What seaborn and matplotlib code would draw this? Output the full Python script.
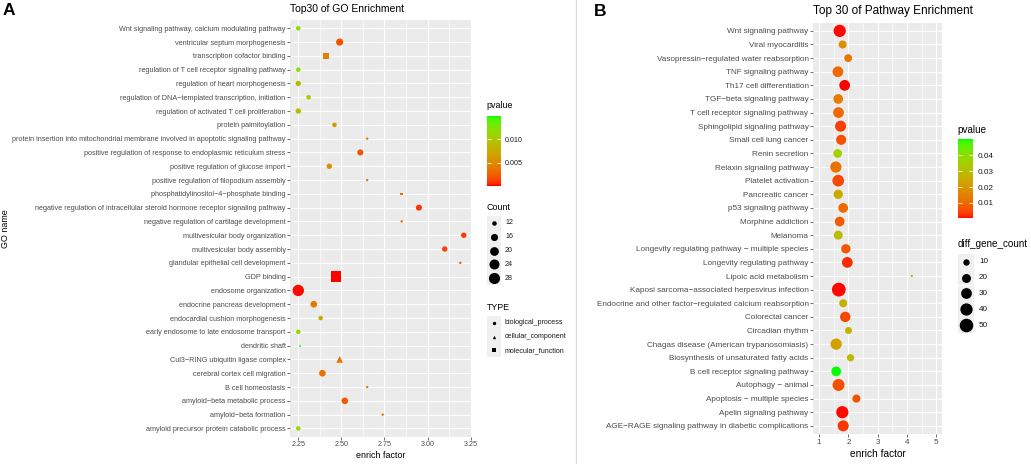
import numpy as np
import pandas as pd
import matplotlib
matplotlib.use("Agg")
import matplotlib.pyplot as plt
import seaborn as sns
from matplotlib.colors import ListedColormap, Normalize
from matplotlib.patches import Rectangle
from matplotlib.cm import ScalarMappable

# ---------------- data: panel A (GO) ----------------
termsA = [
    "Wnt signaling pathway, calcium modulating pathway",
    "ventricular septum morphogenesis",
    "transcription cofactor binding",
    "regulation of T cell receptor signaling pathway",
    "regulation of heart morphogenesis",
    "regulation of DNA\u2212templated transcription, initiation",
    "regulation of activated T cell proliferation",
    "protein palmitoylation",
    "protein insertion into mitochondrial membrane involved in apoptotic signaling pathway",
    "positive regulation of response to endoplasmic reticulum stress",
    "positive regulation of glucose import",
    "positive regulation of filopodium assembly",
    "phosphatidylinositol\u22124\u2212phosphate binding",
    "negative regulation of intracellular steroid hormone receptor signaling pathway",
    "negative regulation of cartilage development",
    "multivesicular body organization",
    "multivesicular body assembly",
    "glandular epithelial cell development",
    "GDP binding",
    "endosome organization",
    "endocrine pancreas development",
    "endocardial cushion morphogenesis",
    "early endosome to late endosome transport",
    "dendritic shaft",
    "Cul3\u2212RING ubiquitin ligase complex",
    "cerebral cortex cell migration",
    "B cell homeostasis",
    "amyloid\u2212beta metabolic process",
    "amyloid\u2212beta formation",
    "amyloid precursor protein catabolic process",
]
enrichA = [2.25, 2.49, 2.41, 2.25, 2.25, 2.31, 2.25, 2.46, 2.65, 2.61,
           2.43, 2.65, 2.85, 2.95, 2.85, 3.21, 3.10, 3.19, 2.47, 2.25,
           2.34, 2.38, 2.25, 2.26, 2.49, 2.39, 2.65, 2.52, 2.74, 2.25]
countA = [12, 16, 14, 12, 13, 12, 13, 12, 11, 14,
          13, 11, 11, 14, 11, 13, 13, 11, 26, 29,
          15, 12, 12, 11, 15, 15, 11, 15, 11, 12]
pA = [0.0120, 0.0018, 0.0045, 0.0125, 0.0090, 0.0102, 0.0090, 0.0062, 0.0040, 0.0020,
      0.0056, 0.0040, 0.0030, 0.0010, 0.0030, 0.0010, 0.0013, 0.0026, 0.0001, 0.0002,
      0.0038, 0.0073, 0.0115, 0.0149, 0.0035, 0.0033, 0.0040, 0.0024, 0.0036, 0.0115]
BP, CC, MF = "biological_process", "cellular_component", "molecular_function"
typeA = [BP, BP, MF, BP, BP, BP, BP, BP, BP, BP,
         BP, BP, MF, BP, BP, BP, BP, BP, MF, BP,
         BP, BP, BP, CC, CC, BP, BP, BP, BP, BP]
type_levels = [BP, CC, MF]
count_breaksA = [12, 16, 20, 24, 28]
p_breaksA = [0.005, 0.010]
p_labelsA = ["0.005", "0.010"]
x_breaksA = [2.25, 2.50, 2.75, 3.00, 3.25]
x_labelsA = ["2.25", "2.50", "2.75", "3.00", "3.25"]

# ---------------- data: panel B (pathway) ----------------
termsB = [
    "Wnt signaling pathway",
    "Viral myocarditis",
    "Vasopressin\u2212regulated water reabsorption",
    "TNF signaling pathway",
    "Th17 cell differentiation",
    "TGF\u2212beta signaling pathway",
    "T cell receptor signaling pathway",
    "Sphingolipid signaling pathway",
    "Small cell lung cancer",
    "Renin secretion",
    "Relaxin signaling pathway",
    "Platelet activation",
    "Pancreatic cancer",
    "p53 signaling pathway",
    "Morphine addiction",
    "Melanoma",
    "Longevity regulating pathway \u2212 multiple species",
    "Longevity regulating pathway",
    "Lipoic acid metabolism",
    "Kaposi sarcoma\u2212associated herpesvirus infection",
    "Endocrine and other factor\u2212regulated calcium reabsorption",
    "Colorectal cancer",
    "Circadian rhythm",
    "Chagas disease (American trypanosomiasis)",
    "Biosynthesis of unsaturated fatty acids",
    "B cell receptor signaling pathway",
    "Autophagy \u2212 animal",
    "Apoptosis \u2212 multiple species",
    "Apelin signaling pathway",
    "AGE\u2212RAGE signaling pathway in diabetic complications",
]
enrichB = [1.70, 1.80, 1.99, 1.64, 1.87, 1.65, 1.66, 1.73, 1.75, 1.63,
           1.57, 1.65, 1.65, 1.82, 1.70, 1.65, 1.91, 1.96, 4.16, 1.67,
           1.82, 1.89, 2.00, 1.58, 2.07, 1.58, 1.66, 2.27, 1.79, 1.82]
countB = [40, 16, 15, 30, 30, 24, 30, 32, 26, 19,
          33, 36, 22, 24, 24, 20, 22, 30, 4, 52,
          16, 28, 12, 33, 13, 24, 38, 16, 40, 32]
pB = [0.0005, 0.018, 0.012, 0.010, 0.0002, 0.014, 0.010, 0.004, 0.006, 0.036,
      0.012, 0.005, 0.025, 0.010, 0.008, 0.030, 0.007, 0.002, 0.028, 0.0005,
      0.027, 0.005, 0.028, 0.022, 0.029, 0.0502, 0.006, 0.006, 0.0005, 0.003]
count_breaksB = [10, 20, 30, 40, 50]
p_breaksB = [0.01, 0.02, 0.03, 0.04]
p_labelsB = ["0.01", "0.02", "0.03", "0.04"]
x_breaksB = [1, 2, 3, 4, 5]
x_labelsB = ["1", "2", "3", "4", "5"]

# ---------------- red -> green gradient interpolated in Lab ----------------
_M = np.array([[0.4124564, 0.3575761, 0.1804375],
               [0.2126729, 0.7151522, 0.0721750],
               [0.0193339, 0.1191920, 0.9503041]])
_WP = np.array([0.95047, 1.0, 1.08883])


def rgb2lab(rgb):
    c = np.asarray(rgb, float)
    lin = np.where(c <= 0.04045, c / 12.92, ((c + 0.055) / 1.055) ** 2.4)
    xyz = _M @ lin / _WP
    d = 6 / 29
    f = np.where(xyz > d ** 3, np.cbrt(xyz), xyz / (3 * d * d) + 4 / 29)
    return np.array([116 * f[1] - 16, 500 * (f[0] - f[1]), 200 * (f[1] - f[2])])


def lab2rgb(lab):
    L, a, b = lab
    fy = (L + 16) / 116
    f = np.array([fy + a / 500, fy, fy - b / 200])
    d = 6 / 29
    xyz = np.where(f > d, f ** 3, 3 * d * d * (f - 4 / 29)) * _WP
    lin = np.linalg.solve(_M, xyz)
    lin = np.clip(lin, 0, 1)
    c = np.where(lin <= 0.0031308, 12.92 * lin, 1.055 * lin ** (1 / 2.4) - 0.055)
    return np.clip(c, 0, 1)


lab_lo, lab_hi = rgb2lab([1, 0, 0]), rgb2lab([0, 1, 0])
cmap = ListedColormap([lab2rgb(lab_lo + t * (lab_hi - lab_lo)) for t in np.linspace(0, 1, 256)])

# ---------------- figure & pixel helpers ----------------
W, H = 1031, 466
plt.rcParams["font.family"] = ["Liberation Sans", "DejaVu Sans"]
fig = plt.figure(figsize=(W / 100, H / 100), dpi=100)


def rect(l, t, r, b):
    return [l / W, 1 - b / H, (r - l) / W, (b - t) / H]


def diam_area(d_px):
    return (d_px * 0.72) ** 2


def size_fun(counts, k, off):
    cmin, cmax = min(counts), max(counts)

    def f(c):
        t = (c - cmin) / (cmax - cmin)
        t = min(max(t, 0), 1)
        return diam_area(off + k * (1 + 5 * np.sqrt(t)))
    return f


sizeA = size_fun(countA, 1.8, 0.6)
sizeB = size_fun(countB, 2.3, 0.0)

TICKC, TEXTC = "#333333", "#4D4D4D"


def style_axes(ax, xb, xl, fs, xlim):
    ax.set_facecolor("#EBEBEB")
    for s in ax.spines.values():
        s.set_visible(False)
    ax.set_xlim(*xlim)
    ax.set_xticks(xb)
    ax.set_xticklabels(xl)
    minors = [(a + b) / 2 for a, b in zip(xb[:-1], xb[1:])]
    ax.set_xticks(minors, minor=True)
    ax.grid(which="major", color="white", linewidth=0.8)
    ax.grid(which="minor", axis="x", color="white", linewidth=0.4)
    ax.set_axisbelow(True)
    ax.tick_params(which="major", length=2, width=0.5, color=TICKC,
                   labelsize=fs, labelcolor=TEXTC, pad=1.2)
    ax.tick_params(which="minor", length=0)
    ax.set_xlabel("")
    ax.set_ylabel("")
    n = len(ax.get_yticks())
    ax.set_ylim(n - 0.4, -0.6)


# ---------------- panel A ----------------
dfA = pd.DataFrame({"term": termsA, "enrich": enrichA, "count": countA,
                    "pvalue": pA, "type": typeA})
normA = Normalize(min(pA), max(pA))
axA = fig.add_axes(rect(290, 20, 472, 436.7))
sns.scatterplot(data=dfA, x="enrich", y="term", hue="pvalue", palette=cmap,
                hue_norm=normA, size="count",
                sizes={c: sizeA(c) for c in sorted(set(countA))},
                style="type", style_order=type_levels,
                markers={BP: "o", CC: "^", MF: "s"},
                linewidth=0, legend=False, ax=axA)
rA = max(enrichA) - min(enrichA)
style_axes(axA, x_breaksA, x_labelsA, 5.2,
           (min(enrichA) - 0.05 * rA, max(enrichA) + 0.05 * rA))

# ---------------- panel B ----------------
dfB = pd.DataFrame({"term": termsB, "enrich": enrichB, "count": countB, "pvalue": pB})
normB = Normalize(min(pB), max(pB))
axB = fig.add_axes(rect(813.3, 22.7, 942.3, 434))
sns.scatterplot(data=dfB, x="enrich", y="term", hue="pvalue", palette=cmap,
                hue_norm=normB, size="count",
                sizes={c: sizeB(c) for c in sorted(set(countB))},
                linewidth=0, legend=False, ax=axB)
style_axes(axB, x_breaksB, x_labelsB, 5.85, (1 - 0.2, 5 + 0.2))
axB.tick_params(which="major", length=2.2, pad=1.2)


# ---------------- colourbars ----------------
def colourbar(r, norm, breaks, labels, fs):
    cax = fig.add_axes(rect(*r))
    cb = fig.colorbar(ScalarMappable(norm=norm, cmap=cmap), cax=cax, ticks=breaks)
    cb.ax.set_yticklabels(labels)
    cb.outline.set_visible(False)
    cb.ax.minorticks_off()
    cb.ax.tick_params(axis="y", left=True, right=True, direction="in", length=3,
                      width=0.6, color="white", labelsize=fs,
                      labelcolor="#1A1A1A", pad=3)
    return cb


colourbar((486.7, 116, 500.7, 185.7), normA, p_breaksA, p_labelsA, 5.1)
colourbar((957.7, 139.3, 973.3, 218.3), normB, p_breaksB, p_labelsB, 5.9)

# ---------------- overlay in pixel coordinates ----------------
ov = fig.add_axes([0, 0, 1, 1])
ov.set_xlim(0, W)
ov.set_ylim(H, 0)
ov.axis("off")
ov.patch.set_alpha(0)

# separator
ov.plot([576, 576], [0, 463], color="#DCDCDC", linewidth=0.9)

# panel letters and titles
ov.text(3, 10.5, "A", fontsize=12.5, fontweight="bold", ha="left", va="center")
ov.text(594, 11.5, "B", fontsize=12.5, fontweight="bold", ha="left", va="center")
ov.text(290, 9.5, "Top30 of GO Enrichment", fontsize=7.45, ha="left", va="center")
ov.text(813.3, 11, "Top 30 of Pathway Enrichment", fontsize=8.5, ha="left", va="center")

# axis titles
ov.text(381, 455.7, "enrich factor", fontsize=6.4, ha="center", va="center")
ov.text(877.8, 454, "enrich factor", fontsize=7.3, ha="center", va="center")
ov.text(5.5, 228.3, "GO name", fontsize=6.4, rotation=90, ha="center", va="center")

KEYC = "#F0F0F0"
LABC = "#1A1A1A"

# panel A legends
ov.text(486.5, 106, "pvalue", fontsize=6.4, ha="left", va="center")
ov.text(486.5, 207, "Count", fontsize=6.4, ha="left", va="center")
ysA = [222.6 + 13.95 * i for i in range(len(count_breaksA))]
for c, y in zip(count_breaksA, ysA):
    ov.add_patch(Rectangle((486.5, y - 7), 14, 14, facecolor=KEYC, edgecolor="none"))
    ov.scatter([493.5], [y], s=sizeA(c), color="black", linewidths=0)
    ov.text(505, y, str(c), fontsize=5.1, color=LABC, ha="left", va="center")

ov.text(486.5, 307, "TYPE", fontsize=6.4, ha="left", va="center")
ysT = [322.7, 336.5, 350.3]
for lvl, mk, y in zip(type_levels, ["o", "^", "s"], ysT):
    ov.add_patch(Rectangle((486.5, y - 7), 14, 14, facecolor=KEYC, edgecolor="none"))
    ov.scatter([493.5], [y], s=diam_area(3.4), marker=mk, color="black", linewidths=0)
    ov.text(505, y, lvl, fontsize=5.1, color=LABC, ha="left", va="center")

# panel B legends
ov.text(957.7, 129.7, "pvalue", fontsize=7.1, ha="left", va="center")
ov.text(957.7, 244.3, "diff_gene_count", fontsize=7.1, ha="left", va="center")
ysB = [261.7 + 15.85 * i for i in range(len(count_breaksB))]
for c, y in zip(count_breaksB, ysB):
    ov.add_patch(Rectangle((957.7, y - 7.9), 16, 15.8, facecolor=KEYC, edgecolor="none"))
    ov.scatter([965.7], [y], s=sizeB(c), color="black", linewidths=0)
    ov.text(979, y, str(c), fontsize=5.9, color=LABC, ha="left", va="center")

fig.savefig("out.png", dpi=100, facecolor="white")
